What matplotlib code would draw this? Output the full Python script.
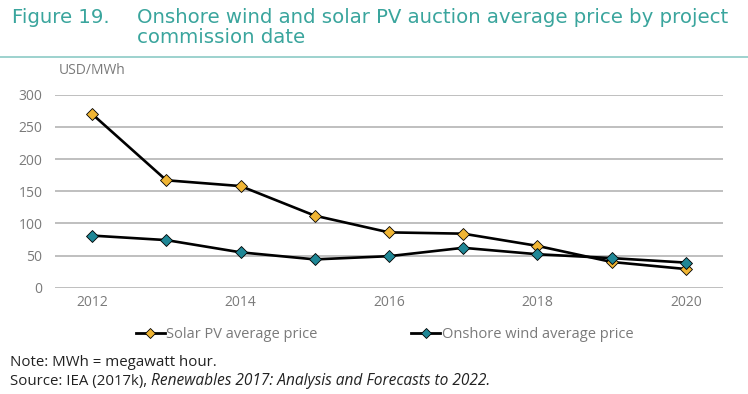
import matplotlib
matplotlib.use("Agg")
import matplotlib.pyplot as plt
from matplotlib.lines import Line2D

# ---------------- Data ----------------
years = [2012, 2013, 2014, 2015, 2016, 2017, 2018, 2019, 2020]
solar_pv = [270, 167, 158, 112, 86, 84, 65, 40, 29]
onshore_wind = [81, 74, 55, 44, 49, 62, 52, 46, 39]
y_ticks = [0, 50, 100, 150, 200, 250, 300]
x_ticks = [2012, 2014, 2016, 2018, 2020]

TEAL = "#3aa59d"
GOLD = "#f0b534"
BLUE = "#1f8796"
GRID = "#b4b4b4"
TICK = "#7a7a7a"

plt.rcParams["font.family"] = ["Open Sans", "DejaVu Sans"]

fig = plt.figure(figsize=(7.48, 3.94), dpi=100)
ax = fig.add_axes([0.0735, 0.2698, 0.8931, 0.4898])

# ---------------- Series ----------------
ax.plot(years, solar_pv, color="black", lw=1.9, marker="D", ms=6.5,
        mfc=GOLD, mec="black", mew=0.6, zorder=3)
ax.plot(years, onshore_wind, color="black", lw=1.9, marker="D", ms=6.5,
        mfc=BLUE, mec="black", mew=0.6, zorder=3)

ax.set_xlim(2011.5, 2020.5)
ax.set_ylim(0, 300)
ax.set_xticks(x_ticks)
ax.set_yticks(y_ticks)
ax.yaxis.grid(True, color=GRID, lw=1.2)
ax.set_axisbelow(True)
for s in ax.spines.values():
    s.set_visible(False)
ax.tick_params(length=0, labelsize=10, colors=TICK, pad=5)
ax.tick_params(axis="y", pad=9)

# ---------------- Texts ----------------
title_font = ["DejaVu Sans"]
fig.text(0.016, 0.942, "Figure 19.", color=TEAL, fontsize=14.2, va="baseline",
         family=title_font)
fig.text(0.183, 0.942, "Onshore wind and solar PV auction average price by project",
         color=TEAL, fontsize=14.2, va="baseline", family=title_font)
fig.text(0.183, 0.89, "commission date", color=TEAL, fontsize=14.2, va="baseline",
         family=title_font)
fig.add_artist(Line2D([0, 1], [0.856, 0.856], color="#8ccbc6", lw=1.2,
                      transform=fig.transFigure))
fig.text(0.078, 0.812, "USD/MWh", color=TICK, fontsize=10, va="baseline")

handles = [
    Line2D([], [], color="black", lw=2, marker="D", ms=5, mfc=GOLD, mec="black", mew=0.6),
    Line2D([], [], color="black", lw=2, marker="D", ms=5, mfc=BLUE, mec="black", mew=0.6),
]
fig.legend(handles, ["Solar PV average price", "Onshore wind average price"],
           loc="center", bbox_to_anchor=(0.514, 0.15), ncol=2, frameon=False,
           fontsize=10.5, labelcolor=TICK, handlelength=2.0, handletextpad=0.1,
           columnspacing=6.4)

fig.text(0.013, 0.071, "Note: MWh = megawatt hour.", color="#222222", fontsize=10.8,
         va="baseline")
src = fig.text(0.013, 0.023, "Source: IEA (2017k), ", color="#222222", fontsize=10.8,
               va="baseline")
fig.canvas.draw()
bb = src.get_window_extent().transformed(fig.transFigure.inverted())
fig.text(bb.x1, 0.023, "Renewables 2017: Analysis and Forecasts to 2022.",
         color="#222222", fontsize=11.2, va="baseline", style="italic")

fig.savefig("out.png", dpi=100)
